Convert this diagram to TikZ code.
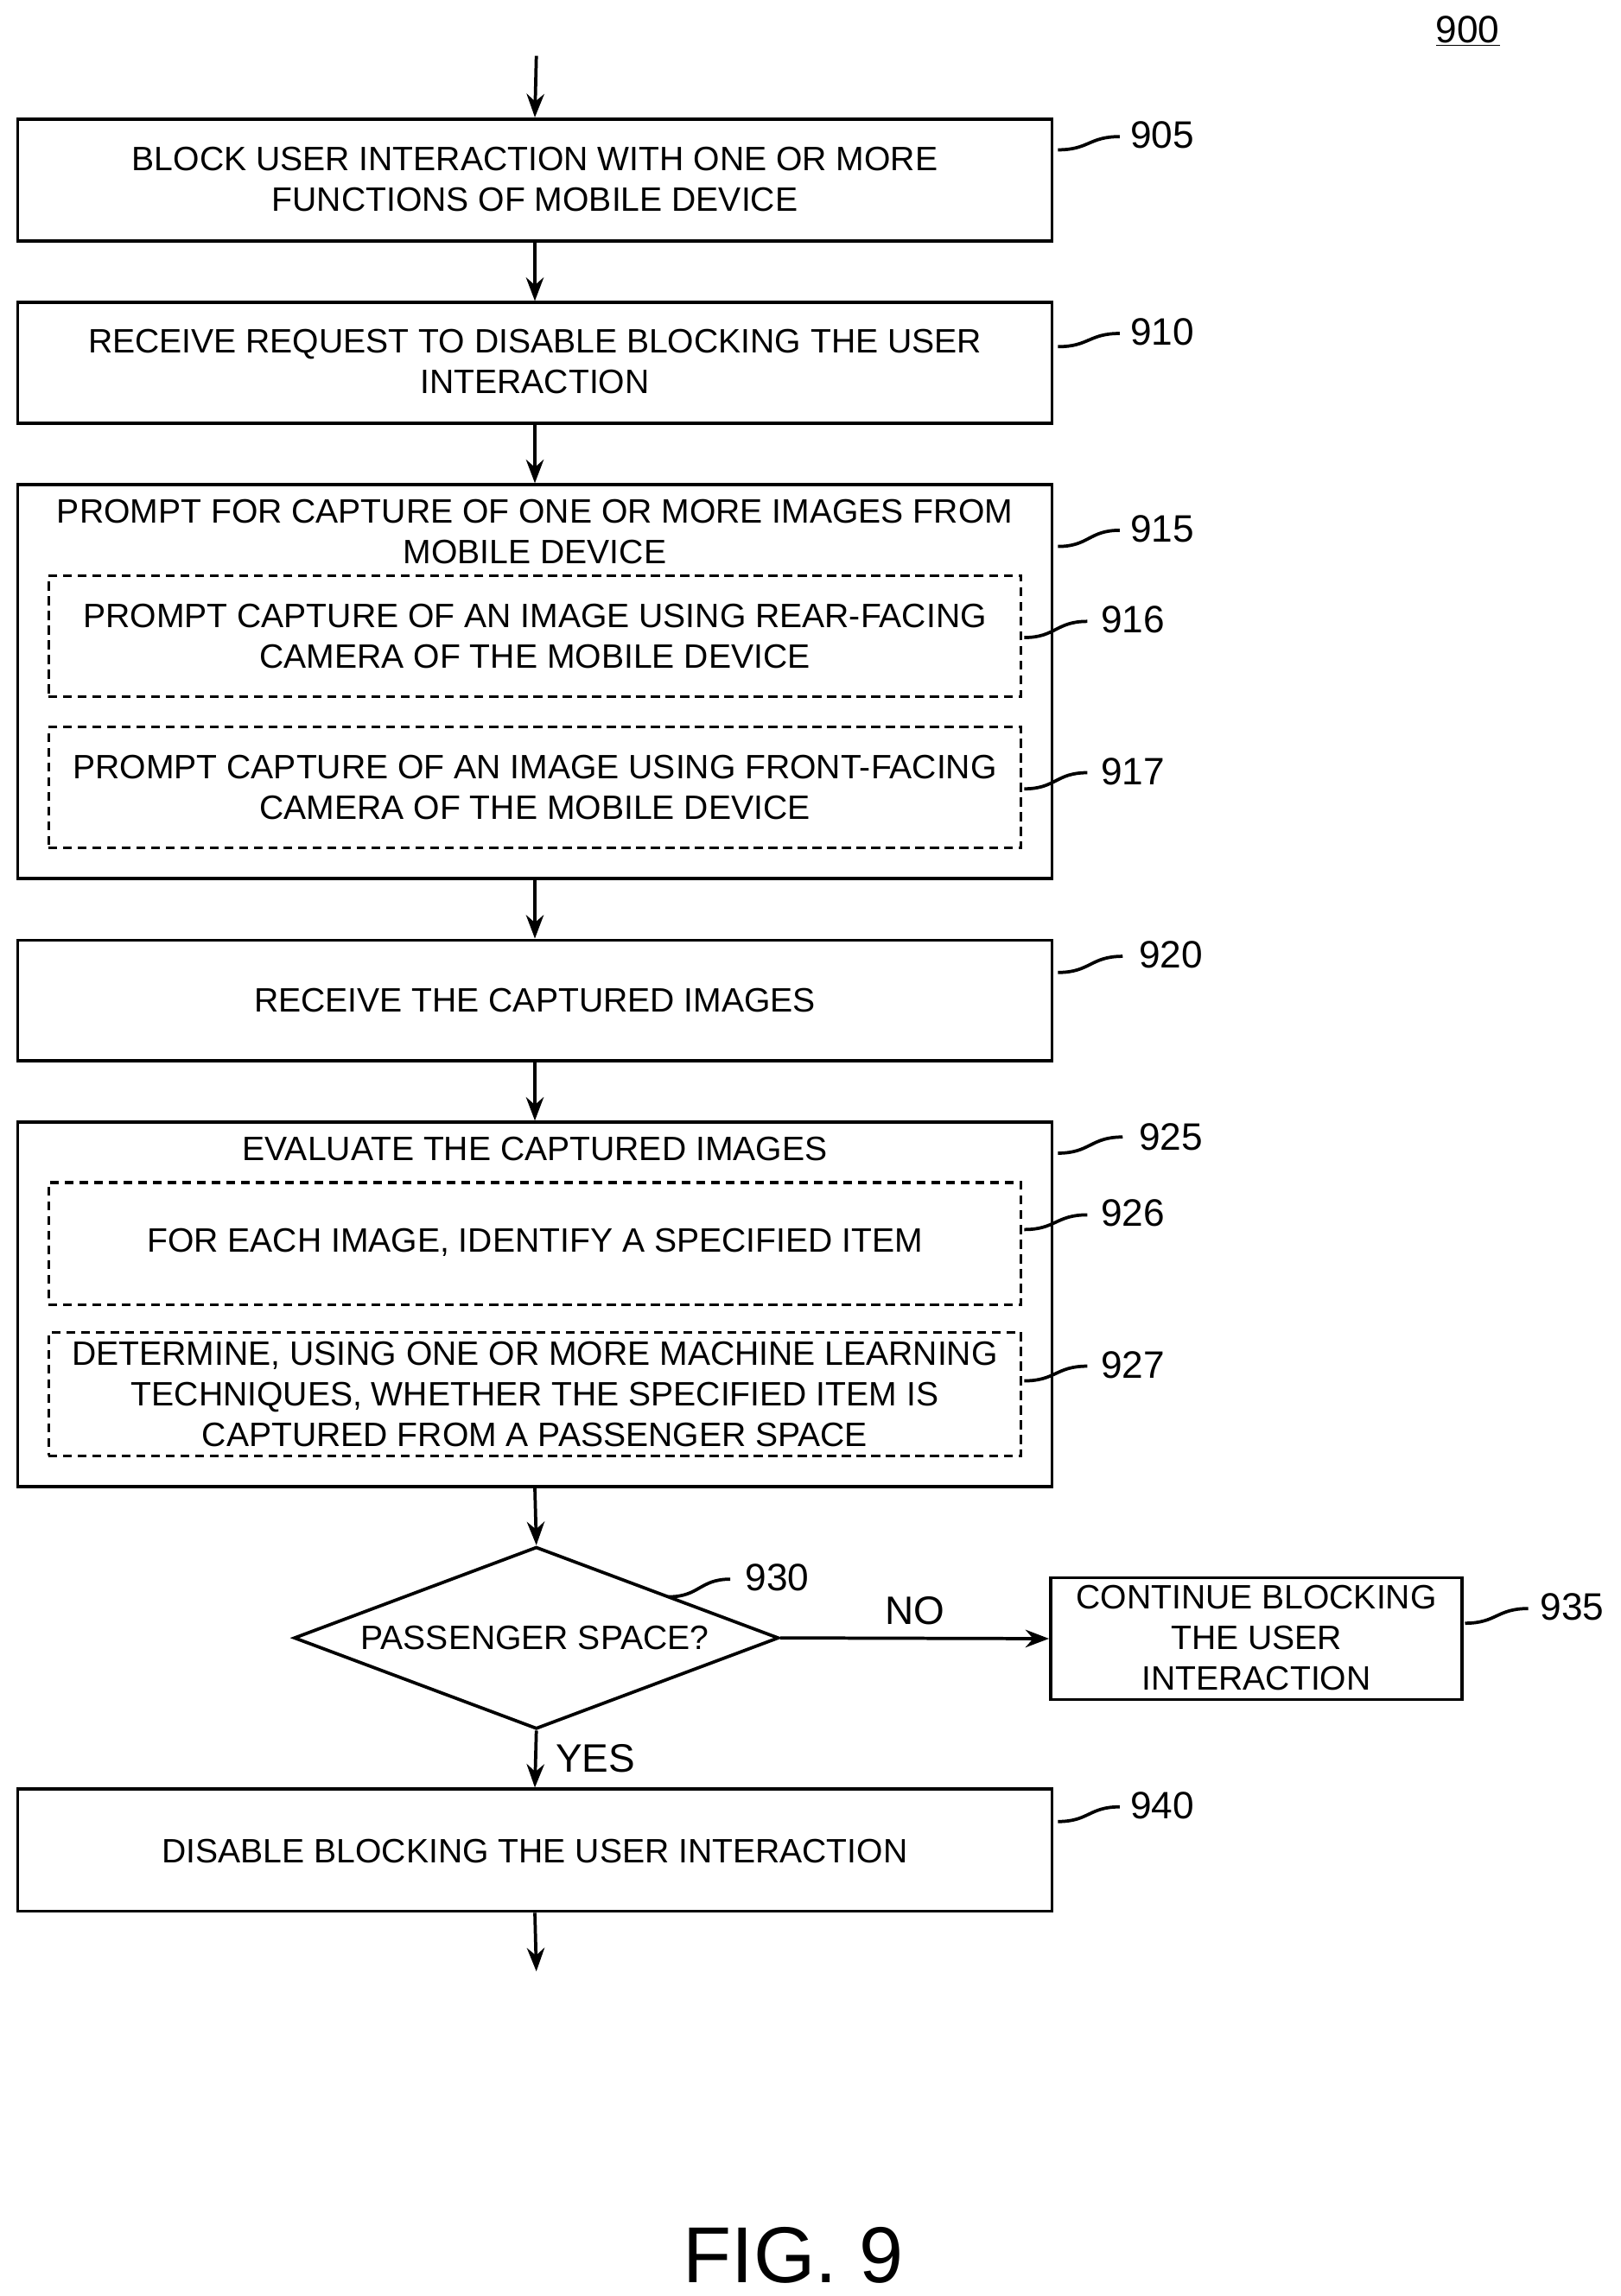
\documentclass[tikz,border=0pt]{standalone}
\usepackage{fontspec}
\setmainfont{Liberation Sans}
\usetikzlibrary{shapes.geometric,arrows.meta}
\begin{document}
\begin{tikzpicture}[x=1pt,y=-1pt,
  box/.style={draw,line width=2.2pt,inner sep=0pt,align=center},
  dbox/.style={draw,dash pattern=on 6pt off 4pt,line width=1.8pt,inner sep=0pt,align=center},
  txt/.style={align=center,font=\fontsize{23}{27.5}\selectfont,inner sep=0pt},
  lbl/.style={font=\fontsize{26}{28}\selectfont,anchor=west,inner sep=0pt},
  arr/.style={line width=2.2pt,-{Stealth[length=16pt,width=12pt]}},
  lead/.style={line width=2.2pt}]
\useasboundingbox (0,0) rectangle (1103,1563);
\newcommand{\bx}[6]{\node[#1,minimum width=#4-#2,minimum height=#5-#3] (#6) at ({(#2+#4)/2},{(#3+#5)/2}) {};}
\bx{box}{12}{81}{716}{164}{b905}
\bx{box}{12}{206}{716}{288}{b910}
\bx{box}{12}{330}{716}{598}{b915}
\bx{dbox}{33}{392}{695}{474}{b916}
\bx{dbox}{33}{495}{695}{577}{b917}
\bx{box}{12}{640}{716}{722}{b920}
\bx{box}{12}{764}{716}{1012}{b925}
\bx{dbox}{33}{805}{695}{888}{b926}
\bx{dbox}{33}{907}{695}{991}{b927}
\bx{box}{715}{1074}{995}{1157}{b935}
\bx{box}{12}{1218}{716}{1301}{b940}
\node[draw,line width=2.2pt,diamond,aspect=2.66,minimum width=330,minimum height=124,inner sep=0pt] (d930) at (365,1115) {};
\node[txt] (t905) at (364,122) {BLOCK USER INTERACTION WITH ONE OR MORE\\FUNCTIONS OF MOBILE DEVICE};
\node[txt] (t910) at (364,246) {RECEIVE REQUEST TO DISABLE BLOCKING THE USER\\INTERACTION};
\node[txt] (t915) at (364,362) {PROMPT FOR CAPTURE OF ONE OR MORE IMAGES FROM\\MOBILE DEVICE};
\node[txt] (t916) at (364,433) {PROMPT CAPTURE OF AN IMAGE USING REAR-FACING\\CAMERA OF THE MOBILE DEVICE};
\node[txt] (t917) at (364,536) {PROMPT CAPTURE OF AN IMAGE USING FRONT-FACING\\CAMERA OF THE MOBILE DEVICE};
\node[txt] (t920) at (364,681) {RECEIVE THE CAPTURED IMAGES};
\node[txt] (t925) at (364,782) {EVALUATE THE CAPTURED IMAGES};
\node[txt] (t926) at (364,846) {FOR EACH IMAGE, IDENTIFY A SPECIFIED ITEM};
\node[txt] (t927) at (364,949) {DETERMINE, USING ONE OR MORE MACHINE LEARNING\\TECHNIQUES, WHETHER THE SPECIFIED ITEM IS\\CAPTURED FROM A PASSENGER SPACE};
\node[txt] (t930) at (364,1115) {PASSENGER SPACE?};
\node[txt] (t935) at (855,1115) {CONTINUE BLOCKING\\THE USER\\INTERACTION};
\node[txt] (t940) at (364,1260) {DISABLE BLOCKING THE USER INTERACTION};
\coordinate (top) at (365,38);
\coordinate (bot) at (365,1342);
\draw[arr] (top) -- (b905.north);
\draw[arr] (b905.south) -- (b910.north);
\draw[arr] (b910.south) -- (b915.north);
\draw[arr] (b915.south) -- (b920.north);
\draw[arr] (b920.south) -- (b925.north);
\draw[arr] (b925.south) -- (d930.north);
\draw[arr] (d930.east) -- node[above=8pt,font=\fontsize{27}{28}\selectfont,inner sep=0pt] (no) {NO} (b935.west);
\draw[arr] (d930.south) -- (b940.north);
\node[font=\fontsize{27}{28}\selectfont,anchor=west,inner sep=0pt] (yes) at (378,1197) {YES};
\draw[arr] (b940.south) -- (bot);
% labels
\node[lbl] (l900) at (977,21) {\underline{900}};
\node[lbl] (l905) at (769,92) {905};
\node[lbl] (l910) at (769,226) {910};
\node[lbl] (l915) at (769,360) {915};
\node[lbl] (l916) at (749,422) {916};
\node[lbl] (l917) at (749,525) {917};
\node[lbl] (l920) at (775,650) {920};
\node[lbl] (l925) at (775,774) {925};
\node[lbl] (l926) at (749,826) {926};
\node[lbl] (l927) at (749,929) {927};
\node[lbl] (l930) at (507,1074) {930};
\node[lbl] (l935) at (1048,1094) {935};
\node[lbl] (l940) at (769,1229) {940};
\newcommand{\ld}[4]{\draw[lead] (#1,#2) .. controls ({(#1+#3)/2},#2) and ({(#1+#3)/2},#4) .. (#3,#4);}
\ld{720}{102}{762}{93}
\ld{720}{236}{762}{227}
\ld{720}{372}{762}{361}
\ld{697}{434}{740}{423}
\ld{697}{537}{740}{526}
\ld{720}{662}{764}{651}
\ld{720}{785}{764}{774}
\ld{697}{837}{740}{827}
\ld{697}{940}{740}{930}
\ld{455}{1087}{497}{1075}
\ld{997}{1105}{1040}{1095}
\ld{720}{1240}{762}{1230}
\node[font=\fontsize{54}{58}\selectfont] (fig) at (540,1535) {FIG. 9};
\end{tikzpicture}
\end{document}
